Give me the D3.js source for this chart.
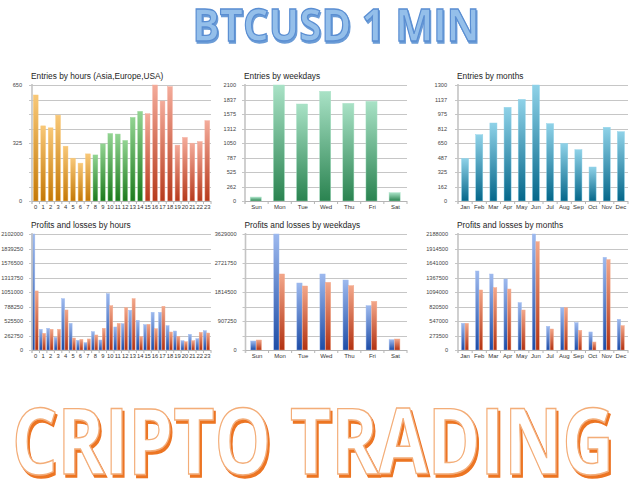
<!DOCTYPE html>
<html><head><meta charset="utf-8">
<script src="https://cdn.jsdelivr.net/npm/d3@7"></script>
<style>body{margin:0;background:#fff}svg{display:block}</style>
</head><body>
<svg id="c" width="640" height="480"></svg>
<script>
// ---------- DATA ----------
const hourLabels = ["0","1","2","3","4","5","6","7","8","9","10","11","12","13","14","15","16","17","18","19","20","21","22","23"];
const hourSessions = ["Asia","Asia","Asia","Asia","Asia","Asia","Asia","Asia",
  "Europe","Europe","Europe","Europe","Europe","Europe","Europe",
  "USA","USA","USA","USA","USA","USA","USA","USA","USA"];
const weekdays = ["Sun","Mon","Tue","Wed","Thu","Fri","Sat"];
const months = ["Jan","Feb","Mar","Apr","May","Jun","Jul","Aug","Sep","Oct","Nov","Dec"];

const entriesByHour = [594,421,410,481,307,240,212,264,258,320,378,375,339,468,502,489,650,560,641,313,356,324,333,450];
const entriesByWeekday = [72,2100,1756,1985,1768,1804,151];
const entriesByMonth = [478,743,874,1050,1139,1300,867,646,575,381,826,777];

const profitsByHour = [2102000,375000,393000,230000,930000,483000,175000,133000,332000,181000,1020000,417000,477000,719000,538000,459000,683000,683000,440000,344000,169000,284000,205000,350000];
const lossesByHour  = [1070000,302000,375000,375000,725000,217000,193000,200000,272000,393000,803000,483000,767000,930000,241000,465000,386000,792000,326000,248000,150000,169000,320000,308000];
const profitsByWeekday = [282000,3629000,2096000,2378000,2190000,1387000,323000];
const lossesByWeekday  = [313000,2378000,2002000,2117000,2013000,1522000,344000];
const profitsByMonth = [503000,1490000,1433000,1339000,893000,2188000,446000,798000,516000,340000,1748000,578000];
const lossesByMonth  = [503000,1132000,1176000,1150000,754000,2043000,396000,798000,371000,151000,1704000,459000];

const yTicksEntriesHour = [0,325,650];
const yTicksEntriesWeekday = [0,262,525,787,1050,1312,1575,1837,2100];
const yTicksEntriesMonth = [0,162,325,487,650,812,975,1137,1300];
const yTicksPLHour = [0,262750,525500,788250,1051000,1313750,1576500,1839250,2102000];
const yTicksPLWeekday = [0,907250,1814500,2721750,3629000];
const yTicksPLMonth = [0,273500,547000,820500,1094000,1367500,1641000,1914500,2188000];

// ---------- DRAW ----------
const svg = d3.select("#c");
svg.append("rect").attr("width",640).attr("height",480).attr("fill","#fff");
const defs = svg.append("defs");
const grads = {
  Asia:["#f8c878","#c47806"], Europe:["#92d492","#1c7a1c"], USA:["#f4ab9a","#b63a1c"],
  wk:["#a9e2c6","#2a8350"], mo:["#8fd2e8","#05678a"],
  blue:["#9db9ee","#1d4ca6"], red:["#f3a78a","#b23212"]
};
Object.entries(grads).forEach(([k,[a,b]])=>{
  const lg = defs.append("linearGradient").attr("id","g_"+k).attr("x1",0).attr("y1",0).attr("x2",0).attr("y2",1);
  lg.append("stop").attr("offset","0%").attr("stop-color",a);
  lg.append("stop").attr("offset","100%").attr("stop-color",b);
});
function shadowFilter(id, dx, dy, color){
  const f = defs.append("filter").attr("id",id).attr("x","-5%").attr("y","-10%").attr("width","110%").attr("height","125%");
  f.append("feOffset").attr("in","SourceAlpha").attr("dx",dx).attr("dy",dy).attr("result","off");
  f.append("feFlood").attr("flood-color",color).attr("result","col");
  f.append("feComposite").attr("in","col").attr("in2","off").attr("operator","in").attr("result","sh");
  const m = f.append("feMerge");
  m.append("feMergeNode").attr("in","sh");
  m.append("feMergeNode").attr("in","SourceGraphic");
}
shadowFilter("shBlue",1.5,1.5,"#6a9bd6");
shadowFilter("shOrange",2.5,2.5,"#ec7424");

const FONT = "'Liberation Sans', Arial, sans-serif";

function panel(cfg){
  const g = svg.append("g");
  const x = d3.scaleBand().domain(cfg.cats).range([cfg.x0, cfg.x1]).padding(0);
  const y = d3.scaleLinear().domain([0, cfg.max]).range([cfg.y1, cfg.y0]);
  const bw = x.bandwidth();
  const grid = d3.range(9).map(i => cfg.max*i/8);
  g.append("g").selectAll("line").data(grid).join("line")
    .attr("x1", cfg.x0-3).attr("x2", cfg.x1)
    .attr("y1", d=>Math.round(y(d))+0.5).attr("y2", d=>Math.round(y(d))+0.5)
    .attr("stroke","#c6c6c6").attr("stroke-width",1);
  const ya = g.append("g").attr("transform",`translate(${cfg.x0},0)`)
    .call(d3.axisLeft(y).tickValues(cfg.yTicks).tickSize(0).tickPadding(cfg.pad).tickFormat(d3.format("d")));
  ya.select(".domain").remove();
  ya.selectAll("text").attr("font-family",FONT).attr("font-size",5.6).attr("fill","#444");
  cfg.series.forEach((s,si)=>{
    const n = cfg.series.length;
    const gw = bw*cfg.f, w = gw/n;
    g.append("g").selectAll("rect").data(s.values).join("rect")
      .attr("x",(d,i)=> x(cfg.cats[i]) + (bw-gw)/2 + si*w + (cfg.off||0))
      .attr("width", w - (n>1?0.3:0))
      .attr("y", d=>y(d)).attr("height", d=>y(0)-y(d))
      .attr("fill",(d,i)=>"url(#g_"+s.grad(i)+")")
      .attr("stroke",(d,i)=>grads[s.grad(i)][0]).attr("stroke-width",0.5).attr("stroke-opacity",0.9);
  });
  g.append("line").attr("x1",cfg.x0).attr("x2",cfg.x0).attr("y1",cfg.y0-1).attr("y2",cfg.y1+3)
    .attr("stroke","#c4c4c4").attr("stroke-width",1.6);
  g.append("line").attr("x1",cfg.x0).attr("x2",cfg.x1).attr("y1",cfg.y1+0.5).attr("y2",cfg.y1+0.5)
    .attr("stroke","#b4b4b4").attr("stroke-width",1);
  g.append("g").selectAll("line").data(cfg.cats).join("line")
    .attr("x1",d=>x(d)+bw).attr("x2",d=>x(d)+bw).attr("y1",cfg.y1).attr("y2",cfg.y1+3)
    .attr("stroke","#b4b4b4").attr("stroke-width",1);
  const xa = g.append("g").attr("transform",`translate(0,${cfg.y1})`)
    .call(d3.axisBottom(x).tickSize(0).tickPadding(4));
  xa.select(".domain").remove();
  xa.selectAll("text").attr("font-family",FONT).attr("font-size",cfg.xfs).attr("fill","#333");
  g.append("text").attr("x",cfg.x0-1).attr("y",cfg.y0-6).text(cfg.title)
    .attr("font-family",FONT).attr("font-size",8.3).attr("fill","#1e1e1e");
}

const top0=85, top1=201, bot0=234, bot1=350;
panel({title:"Entries by hours (Asia,Europe,USA)", cats:hourLabels, x0:32, x1:211, y0:top0, y1:top1,
  max:650, yTicks:yTicksEntriesHour, pad:10, f:0.64, xfs:5.8,
  series:[{values:entriesByHour, grad:i=>hourSessions[i]}]});
panel({title:"Entries by weekdays", cats:weekdays, x0:245, x1:407, y0:top0, y1:top1,
  max:2100, yTicks:yTicksEntriesWeekday, pad:9, f:0.48, xfs:6, off:-0.8,
  series:[{values:entriesByWeekday, grad:()=>"wk"}]});
panel({title:"Entries by months", cats:months, x0:458, x1:628, y0:top0, y1:top1,
  max:1300, yTicks:yTicksEntriesMonth, pad:11, f:0.5, xfs:6,
  series:[{values:entriesByMonth, grad:()=>"mo"}]});
panel({title:"Profits and losses by hours", cats:hourLabels, x0:32, x1:211, y0:bot0, y1:bot1,
  max:2102000, yTicks:yTicksPLHour, pad:9, f:0.9, xfs:5.8, off:-0.6,
  series:[{values:profitsByHour, grad:()=>"blue"},{values:lossesByHour, grad:()=>"red"}]});
panel({title:"Profits and losses by weekdays", cats:weekdays, x0:245.5, x1:407, y0:bot0, y1:bot1,
  max:3629000, yTicks:yTicksPLWeekday, pad:9, f:0.48, xfs:6, off:-0.8,
  series:[{values:profitsByWeekday, grad:()=>"blue"},{values:lossesByWeekday, grad:()=>"red"}]});
panel({title:"Profits and losses by months", cats:months, x0:458, x1:628, y0:bot0, y1:bot1,
  max:2188000, yTicks:yTicksPLMonth, pad:10, f:0.52, xfs:6,
  series:[{values:profitsByMonth, grad:()=>"blue"},{values:lossesByMonth, grad:()=>"red"}]});

// Big titles: single text each, horizontally scaled to the reference width
const TF = "'Open Sans', 'DejaVu Sans', sans-serif";
function bigText(str, cx, y, size, weight, targetW, fill, stroke, sw, filter){
  const t = svg.append("text").attr("x",0).attr("y",0).attr("text-anchor","middle")
    .attr("font-family",TF).attr("font-weight",weight).attr("font-size",size)
    .attr("fill",fill).attr("stroke",stroke).attr("stroke-width",sw)
    .attr("filter",`url(#${filter})`).text(str);
  const natural = t.node().getComputedTextLength();
  const sx = targetW / natural;
  t.attr("transform",`translate(${cx},${y}) scale(${sx},1)`).attr("stroke-width", sw/Math.sqrt(sx));
}
bigText("BTCUSD 1 MIN", 336, 41, 44, 700, 287, "#94bfea", "#5a8ed2", 1.2, "shBlue");
bigText("CRIPTO TRADING", 313, 474, 92, 700, 602, "#ffffff", "#f3ad78", 1.3, "shOrange");
</script>
</body></html>
